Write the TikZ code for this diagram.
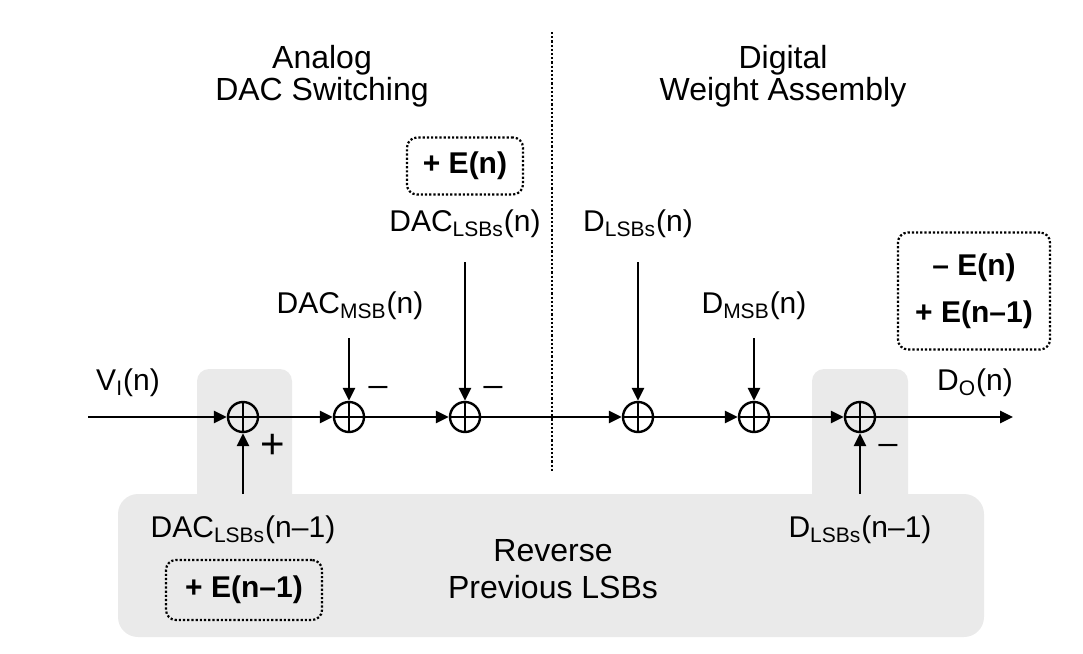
\documentclass[tikz,border=0pt]{standalone}
\usepackage{fontspec}
\usepackage{graphicx}
\setmainfont{Liberation Sans}
\usetikzlibrary{arrows.meta}
\definecolor{panelgray}{HTML}{EAEAEA}
\newcommand{\minussign}{\scalebox{1.3}[1]{−}}
\newcommand{\plussign}{\scalebox{1.4}{+}}
\tikzset{
  every node/.style={font=\fontsize{15}{16}\selectfont},
  heading/.style={align=center, font=\fontsize{16}{16}\selectfont},
  summer/.style={circle, draw, line width=1.2pt, minimum size=15pt, inner sep=0pt,
    path picture={\draw[line width=1.2pt]
      (path picture bounding box.north) -- (path picture bounding box.south)
      (path picture bounding box.west) -- (path picture bounding box.east);}},
  sig/.style={-{Triangle[length=6.5pt,width=6pt]}, line width=1.3pt},
  errbox/.style={draw, densely dotted, line width=1.1pt, rounded corners=5pt,
    font=\fontsize{15}{16}\selectfont\bfseries, align=center, inner sep=0pt},
  panel/.style={fill=panelgray},
}
\begin{document}
\begin{tikzpicture}[x=0.5pt, y=-0.5pt]
    \useasboundingbox (0,0) rectangle (1083,654);

    % Gray panels
    \fill[panel, rounded corners=6pt] (197,369) rectangle (292,540);
    \fill[panel, rounded corners=6pt] (812,369) rectangle (908,540);
    \fill[panel, rounded corners=10pt] (118,494) rectangle (984,637);

    % Divider
    \draw[densely dotted, line width=1.1pt] (552,32) -- (552,472);

    % Titles
    \node[heading] (analog) at (322,76) {Analog\\DAC Switching};
    \node[heading] (digital) at (783,76) {Digital\\Weight Assembly};

    % Summers on the signal path
    \foreach \name/\x in {s1/243,s2/349,s3/465,s4/638,s5/754,s6/860}
        \node[summer] (\name) at (\x,417) {};

    \coordinate (in) at (88,417);
    \coordinate (out) at (1013,417);
    \foreach \a/\b in {in/s1,s1/s2,s2/s3,s3/s4,s4/s5,s5/s6,s6/out}
        \draw[sig] (\a) -- (\b);

    % Side inputs
    \foreach \s/\x/\y in {s1/243/494,s2/349/338,s3/465/262,s4/638/262,s5/754/338,s6/860/494} {
        \coordinate (\s tail) at (\x,\y);
        \draw[sig] (\s tail) -- (\s);
    }

    % Labels
    \node (vin) at (128,383) {V\textsubscript{I}(n)};
    \node (dout) at (975,383) {D\textsubscript{O}(n)};
    \node (dacmsb) at (350,306) {DAC\textsubscript{MSB}(n)};
    \node (daclsb) at (465,224) {DAC\textsubscript{LSBs}(n)};
    \node (dlsb) at (638,224) {D\textsubscript{LSBs}(n)};
    \node (dmsb) at (754,306) {D\textsubscript{MSB}(n)};
    \node (daclsbold) at (243,530) {DAC\textsubscript{LSBs}(n–1)};
    \node (dlsbold) at (860,530) {D\textsubscript{LSBs}(n–1)};
    \node[heading] (reverse) at (553,569) {Reverse\\[2.5pt]Previous LSBs};

    % Signs
    \node (m2) at (378,392) {\minussign};
    \node (m3) at (493,392) {\minussign};
    \node (p1) at (273,446) {\plussign};
    \node (m6) at (888,450) {\minussign};

    % Error terms
    \node[errbox, minimum width=58pt, minimum height=28.5pt] (en) at (465,166) {+ E(n)};
    \node[errbox, minimum width=76pt, minimum height=58.5pt] (enright) at (974,291) {– E(n)\\[7.5pt]+ E(n–1)};
    \node[errbox, minimum width=78pt, minimum height=30pt] (enold) at (244,590) {+ E(n–1)};
\end{tikzpicture}
\end{document}
